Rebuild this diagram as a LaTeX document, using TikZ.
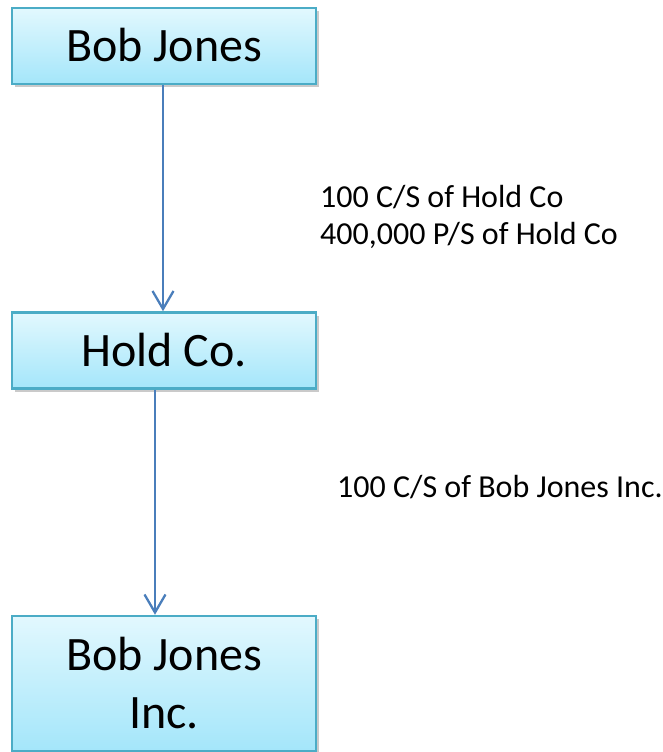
\documentclass[tikz,border=0pt]{standalone}
\usepackage{fontspec}
\setmainfont{Carlito}
\usetikzlibrary{arrows.meta,shadows}
\definecolor{boxtop}{RGB}{226,248,254}
\definecolor{boxbot}{RGB}{164,230,250}
\definecolor{boxline}{RGB}{75,172,198}
\definecolor{arrowblue}{RGB}{74,126,187}
\tikzset{
  orgbox/.style={draw=boxline, line width=2.5pt, top color=boxtop, bottom color=boxbot,
    minimum width=304pt, inner sep=0pt,
    drop shadow={shadow xshift=3pt, shadow yshift=-3pt, opacity=0.35, fill=black!60},
    font=\fontsize{48}{58}\selectfont, align=center},
  conn/.style={draw=arrowblue, line width=2.3pt, -{Straight Barb[length=18pt,width=21pt,line width=2.3pt]}},
  note/.style={font=\fontsize{32}{37}\selectfont, anchor=base west, inner sep=0pt}
}
\begin{document}
\begin{tikzpicture}[x=1pt,y=-1pt]
\useasboundingbox (0,0) rectangle (663,752);
\node[orgbox, minimum height=76pt, text height=31pt, text depth=0pt] (bj) at (164,46) {Bob Jones};
\node[orgbox, minimum height=76pt, text height=31pt, text depth=0pt] (hc) at (164,350.5) {Hold Co.};
\node[orgbox, minimum height=135pt] (bji) at (164,683.5) {Bob Jones\\Inc.};
\coordinate (c1) at (163,0);
\coordinate (c2) at (155,0);
\draw[conn] (bj.south -| c1) -- (hc.north -| c1);
\draw[conn] (hc.south -| c2) -- (bji.north -| c2);
\node[note] (n1) at (320,207) {100 C/S of Hold Co};
\node[note] (n2) at (320,244) {400,000 P/S of Hold Co};
\node[note] (n3) at (337,497) {100 C/S of Bob Jones Inc.};
\end{tikzpicture}
\end{document}
